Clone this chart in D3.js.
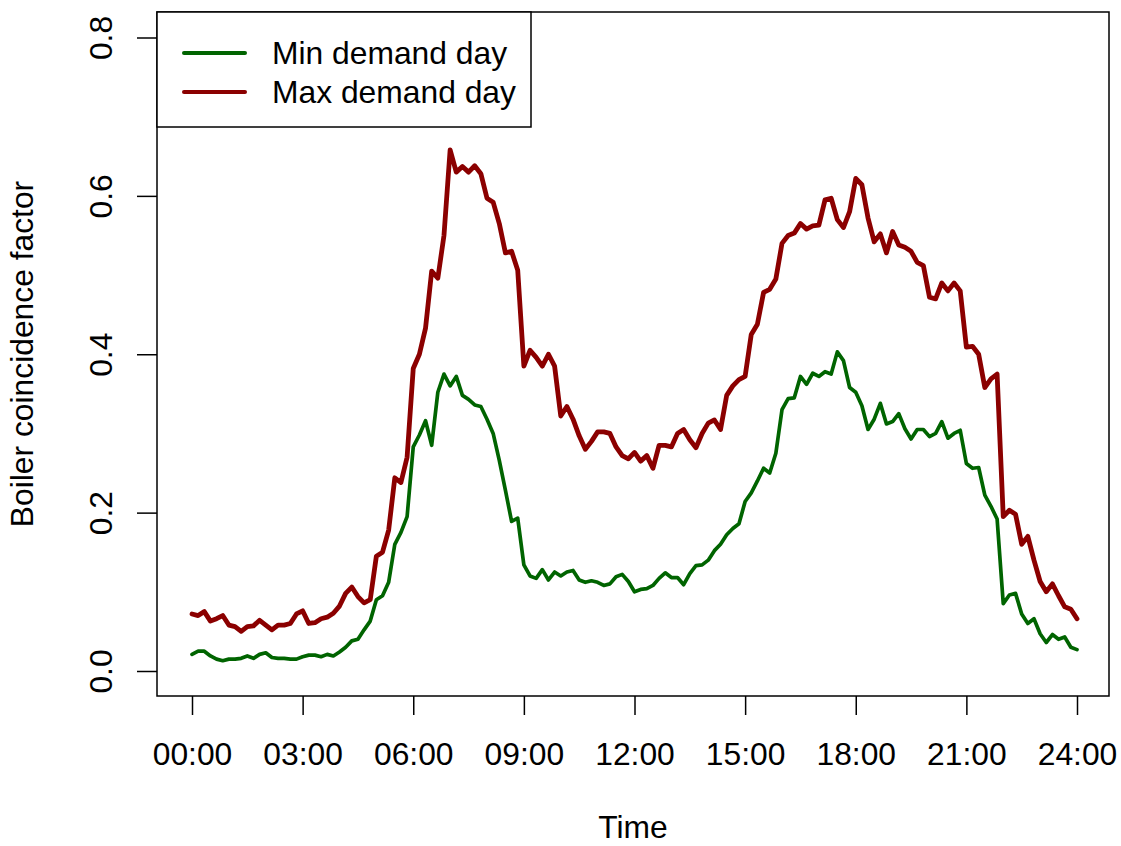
<!DOCTYPE html>
<html lang="en">
<head>
<meta charset="UTF-8">
<title>Boiler coincidence factor</title>
<script src="https://d3js.org/d3.v7.min.js"></script>
<style>
body { margin: 0; background: #fff; }
svg text { font-family: "Liberation Sans", Arial, sans-serif; font-size: 31.8px; fill: #000; }
</style>
</head>
<body>
<svg width="1121" height="846"></svg>
<script>
// 10-minute steps over one day, index i -> i*10 minutes
var minDemand = [
  0.021, 0.025, 0.025, 0.019, 0.015, 0.013, 0.015, 0.015, 0.016, 0.019,
  0.016, 0.021, 0.023, 0.017, 0.016, 0.016, 0.015, 0.015, 0.018, 0.020,
  0.020, 0.018, 0.021, 0.019, 0.024, 0.030, 0.038, 0.040, 0.052, 0.063,
  0.090, 0.095, 0.112, 0.160, 0.175, 0.195, 0.283, 0.298, 0.316, 0.285,
  0.352, 0.375, 0.360, 0.372, 0.348, 0.343, 0.336, 0.334, 0.318, 0.300,
  0.266, 0.228, 0.189, 0.193, 0.134, 0.120, 0.117, 0.128, 0.115, 0.125,
  0.120, 0.125, 0.127, 0.115, 0.112, 0.114, 0.112, 0.108, 0.110, 0.119,
  0.122, 0.113, 0.100, 0.103, 0.104, 0.108, 0.117, 0.124, 0.118, 0.118,
  0.109, 0.123, 0.133, 0.134, 0.140, 0.152, 0.160, 0.172, 0.180, 0.186,
  0.214, 0.225, 0.240, 0.256, 0.250, 0.275, 0.330, 0.344, 0.345, 0.372,
  0.362, 0.376, 0.372, 0.378, 0.375, 0.403, 0.392, 0.358, 0.352, 0.335,
  0.305, 0.318, 0.338, 0.312, 0.315, 0.325, 0.306, 0.293, 0.305, 0.305,
  0.296, 0.300, 0.315, 0.294, 0.300, 0.304, 0.262, 0.256, 0.257, 0.222,
  0.208, 0.192, 0.085, 0.096, 0.098, 0.072, 0.060, 0.066, 0.047, 0.036,
  0.046, 0.040, 0.043, 0.030, 0.027
];
var maxDemand = [
  0.072, 0.070, 0.075, 0.063, 0.066, 0.070, 0.058, 0.056, 0.050, 0.056,
  0.057, 0.064, 0.058, 0.052, 0.058, 0.058, 0.060, 0.072, 0.076, 0.060,
  0.061, 0.066, 0.068, 0.073, 0.082, 0.098, 0.106, 0.094, 0.086, 0.090,
  0.145, 0.150, 0.178, 0.244, 0.238, 0.270, 0.382, 0.400, 0.433, 0.505,
  0.496, 0.550, 0.658, 0.630, 0.637, 0.630, 0.638, 0.628, 0.597, 0.592,
  0.565, 0.528, 0.530, 0.506, 0.385, 0.405, 0.396, 0.385, 0.400, 0.385,
  0.322, 0.334, 0.318, 0.297, 0.280, 0.290, 0.302, 0.302, 0.300, 0.283,
  0.272, 0.268, 0.276, 0.265, 0.272, 0.256, 0.285, 0.285, 0.283, 0.300,
  0.305, 0.292, 0.282, 0.300, 0.313, 0.317, 0.305, 0.348, 0.360, 0.368,
  0.372, 0.425, 0.438, 0.478, 0.482, 0.495, 0.540, 0.550, 0.553, 0.565,
  0.558, 0.562, 0.563, 0.595, 0.597, 0.570, 0.560, 0.580, 0.622, 0.614,
  0.572, 0.542, 0.552, 0.528, 0.555, 0.538, 0.535, 0.530, 0.516, 0.512,
  0.472, 0.470, 0.490, 0.480, 0.490, 0.480, 0.409, 0.410, 0.400, 0.358,
  0.369, 0.375, 0.195, 0.203, 0.198, 0.160, 0.170, 0.140, 0.113, 0.100,
  0.110, 0.095, 0.081, 0.078, 0.066
];
var stepMinutes = 10;
var xTickHours = [0, 3, 6, 9, 12, 15, 18, 21, 24];
var xTickLabels = ['00:00', '03:00', '06:00', '09:00', '12:00', '15:00', '18:00', '21:00', '24:00'];
var yTicks = [0, 0.2, 0.4, 0.6, 0.8];
var seriesNames = ['Min demand day', 'Max demand day'];
var seriesColors = ['#006400', '#8b0000'];

var svg = d3.select('svg');

// plot region (R style box)
var box = {left: 157, top: 12, right: 1109, bottom: 696};

var x = d3.scaleLinear().domain([0, 24]).range([192, 1077]);
var y = d3.scaleLinear().domain([0, 0.8]).range([671, 37.5]);

function hourOf(i) {
    return i * stepMinutes / 60;
}

var line = d3.line()
    .x(function(d, i) { return x(hourOf(i)); })
    .y(function(d) { return y(d); });

svg.append('path')
    .datum(minDemand)
    .attr('d', line)
    .attr('fill', 'none')
    .attr('stroke', seriesColors[0])
    .attr('stroke-width', 3.7)
    .attr('stroke-linejoin', 'round')
    .attr('stroke-linecap', 'round');

svg.append('path')
    .datum(maxDemand)
    .attr('d', line)
    .attr('fill', 'none')
    .attr('stroke', seriesColors[1])
    .attr('stroke-width', 4.8)
    .attr('stroke-linejoin', 'round')
    .attr('stroke-linecap', 'round');

// box
svg.append('rect')
    .attr('x', box.left)
    .attr('y', box.top)
    .attr('width', box.right - box.left)
    .attr('height', box.bottom - box.top)
    .attr('fill', 'none')
    .attr('stroke', '#000')
    .attr('stroke-width', 1.5);

// x axis
var xAxis = svg.append('g')
    .attr('transform', 'translate(0,' + box.bottom + ')')
    .call(d3.axisBottom(x)
        .tickValues(xTickHours)
        .tickFormat(function(d, i) { return xTickLabels[i]; })
        .tickSize(19));
xAxis.select('.domain').remove();
xAxis.selectAll('line').attr('stroke', '#000').attr('stroke-width', 1.5);
xAxis.selectAll('text')
    .attr('y', 69)
    .attr('dy', null);
xAxis.attr('font-size', null).attr('font-family', null);

// y axis
var yAxis = svg.append('g')
    .attr('transform', 'translate(' + box.left + ',0)')
    .call(d3.axisLeft(y)
        .tickValues(yTicks)
        .tickFormat(d3.format('.1f'))
        .tickSize(20));
yAxis.select('.domain').remove();
yAxis.selectAll('line').attr('stroke', '#000').attr('stroke-width', 1.5);
yAxis.selectAll('text')
    .attr('x', null)
    .attr('dy', null)
    .attr('text-anchor', 'middle')
    .attr('transform', 'translate(-45.5,0) rotate(-90)');
yAxis.attr('font-size', null).attr('font-family', null);

// axis titles
svg.append('text')
    .attr('x', (box.left + box.right) / 2)
    .attr('y', 838)
    .attr('text-anchor', 'middle')
    .text('Time');

svg.append('text')
    .attr('transform', 'translate(33,' + ((box.top + box.bottom) / 2) + ') rotate(-90)')
    .attr('text-anchor', 'middle')
    .text('Boiler coincidence factor');

// legend
var legend = svg.append('g');
legend.append('rect')
    .attr('x', box.left)
    .attr('y', box.top)
    .attr('width', 374)
    .attr('height', 115)
    .attr('fill', '#fff')
    .attr('stroke', '#000')
    .attr('stroke-width', 1.5);

seriesNames.forEach(function(name, i) {
    var ly = 53 + i * 39;
    legend.append('line')
        .attr('x1', 184).attr('x2', 245)
        .attr('y1', ly).attr('y2', ly)
        .attr('stroke', seriesColors[i])
        .attr('stroke-width', 4)
        .attr('stroke-linecap', 'round');
    legend.append('text')
        .attr('x', 272)
        .attr('y', ly + 11)
        .text(name);
});
</script>
</body>
</html>
